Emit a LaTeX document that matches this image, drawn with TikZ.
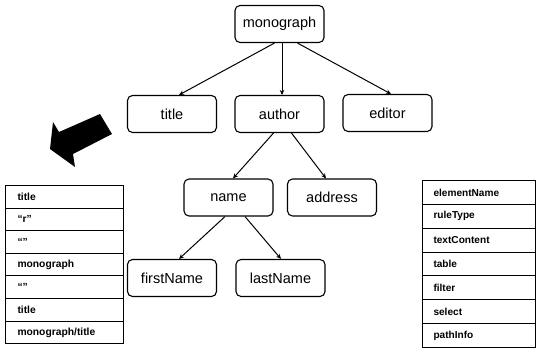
\documentclass[tikz,border=0pt]{standalone}
\usepackage{fontspec}
\setmainfont{Liberation Sans}
\usetikzlibrary{arrows.meta,calc}
\begin{document}
\begin{tikzpicture}[x=1pt,y=-1pt,
  treenode/.style={draw, line width=1.1pt, rounded corners=5pt, minimum width=89pt, minimum height=37pt, inner sep=0pt, font=\fontsize{14.5}{16}\selectfont},
  edge/.style={line width=1pt, -{Stealth[length=5pt,width=4.5pt]}},
  lrow/.style={draw, line width=1pt, anchor=north west, text width=94pt, inner xsep=12pt, inner ysep=0pt, minimum height=22.6pt, align=left, font=\bfseries\fontsize{10.3}{12}\selectfont},
  rrow/.style={draw, line width=1pt, anchor=north west, text width=91pt, inner xsep=11pt, inner ysep=0pt, minimum height=23.86pt, align=left, font=\bfseries\fontsize{10.1}{12}\selectfont}
]
\useasboundingbox (0,0) rectangle (537,349);
% tree nodes
\node[treenode] (mono) at (279.5,24) {monograph};
\node[treenode] (title) at (172,114) {title};
\node[treenode] (author) at (279.5,114) {author};
\node[treenode] (editor) at (387.5,113) {editor};
\node[treenode] (name) at (228.5,197.5) {name};
\node[treenode] (address) at (332,197.5) {address};
\node[treenode] (first) at (172,278) {firstName};
\node[treenode] (last) at (280.5,278) {lastName};
% edges
\draw[edge] ([xshift=-5pt]mono.south) -- ([xshift=7pt]title.north);
\draw[edge] ([xshift=2.5pt]mono.south) -- ([xshift=2.5pt]author.north);
\draw[edge] ([xshift=18pt]mono.south) -- ([xshift=3.5pt]editor.north);
\draw[edge] ([xshift=-6pt]author.south) -- ([xshift=4.5pt]name.north);
\draw[edge] ([xshift=12pt]author.south) -- ([xshift=-6pt]address.north);
\draw[edge] ([xshift=-3.5pt]name.south) -- ([xshift=7pt]first.north);
\draw[edge] ([xshift=16.5pt]name.south) -- ([xshift=0.5pt]last.north);
% big arrow
\fill (100,114) -- (112,134) -- (73,154) -- (75,167) -- (50,149) -- (53,122) -- (59,132) -- cycle;
% left table
\node[lrow] (l1) at (5,185) {title};
\node[lrow] (l2) at (5,207.6) {“r”};
\node[lrow] (l3) at (5,230.2) {“”};
\node[lrow] (l4) at (5,252.8) {monograph};
\node[lrow] (l5) at (5,275.4) {“”};
\node[lrow] (l6) at (5,298) {title};
\node[lrow] (l7) at (5,320.6) {monograph/title};
% right table
\node[rrow] (r1) at (422,180) {elementName};
\node[rrow] (r2) at (422,203.86) {ruleType};
\node[rrow] (r3) at (422,227.72) {textContent};
\node[rrow] (r4) at (422,251.58) {table};
\node[rrow] (r5) at (422,275.44) {filter};
\node[rrow] (r6) at (422,299.3) {select};
\node[rrow] (r7) at (422,323.16) {pathInfo};
\end{tikzpicture}
\end{document}
